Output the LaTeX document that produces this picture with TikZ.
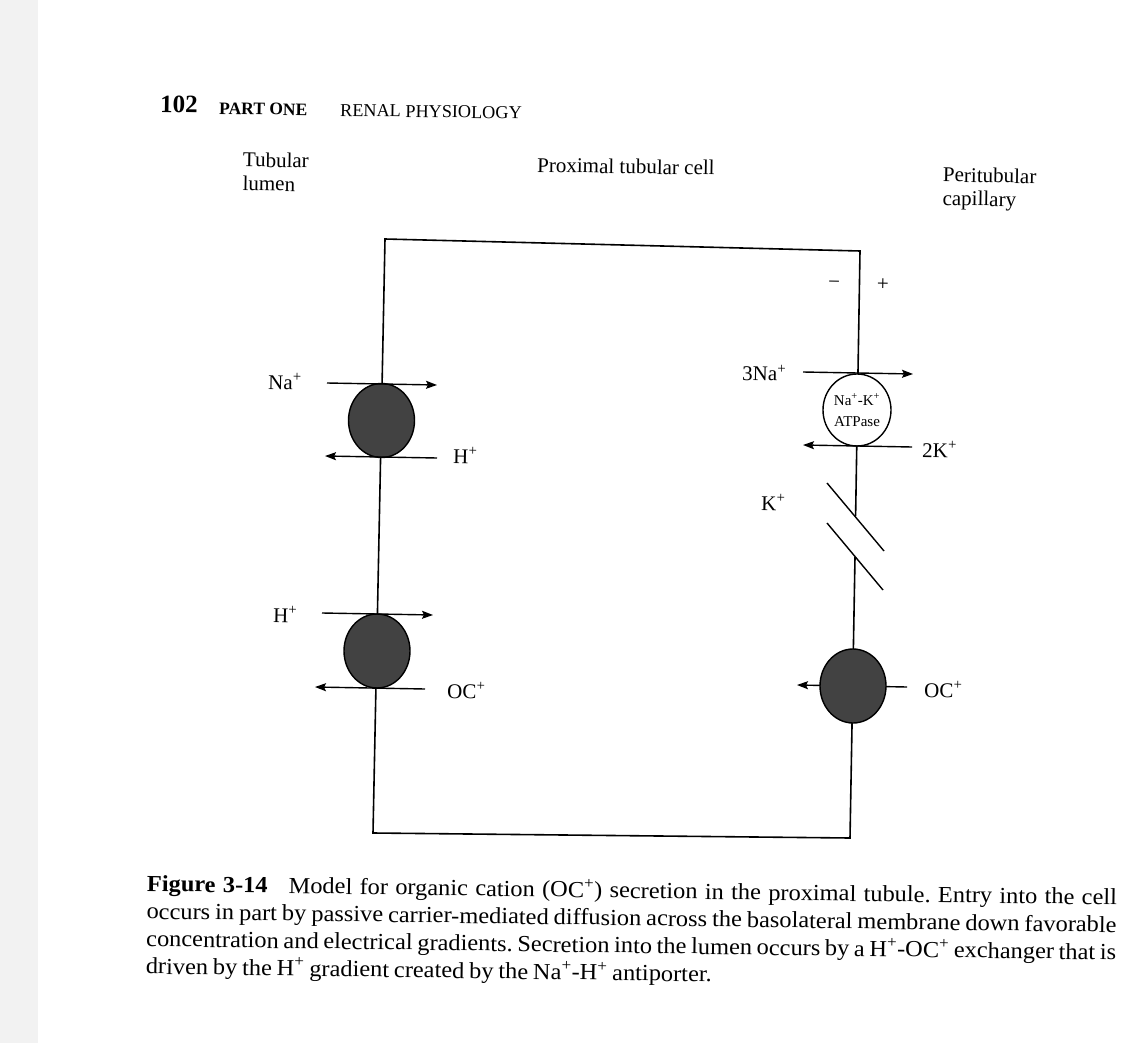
\documentclass[tikz,border=0pt]{standalone}
\usepackage{fontspec}
\setmainfont{Liberation Serif}
\newfontfamily\capfont{Liberation Serif}[FakeStretch=1.06]
\newcommand\capsetup{\capfont\fontsize{23}{27.5}\selectfont\frenchspacing\spaceskip=0.21em plus 0.4em minus 0.02em\relax}
\usetikzlibrary{arrows.meta,shapes.geometric}
\begin{document}
\begin{tikzpicture}[x=1pt,y=-1pt,
  lbl/.style={inner sep=0pt, font=\fontsize{21}{23.5}\selectfont, rotate=-1},
  memb/.style={line width=1.6pt, line join=miter},
  flux/.style={line width=1.4pt,-{Stealth[length=11pt,width=8pt,inset=2pt]}},
  carrier/.style={ellipse, draw, line width=1.4pt, fill=black!74, minimum width=66pt, minimum height=74pt, inner sep=0pt},
  chan/.style={line width=1.4pt}
  ]
\useasboundingbox (0,0) rectangle (1143,1043);
\fill[white] (0,0) rectangle (1143,1043);
\fill[black!5] (0,0) rectangle (38,1043);

% header
\node[inner sep=0pt, anchor=base west, rotate=-0.9, font=\fontsize{25}{28}\selectfont\bfseries] (pg) at (160,112) {102};
\node[inner sep=0pt, anchor=base west, rotate=-0.9, font=\fontsize{17.5}{20}\selectfont\bfseries] (part) at (219,114) {PART ONE};
\node[inner sep=0pt, anchor=base west, rotate=-0.9, font=\fontsize{18.2}{20}\selectfont] (renal) at (340,116) {RENAL PHYSIOLOGY};

% region titles
\node[lbl, anchor=north west, align=left] (lumen) at (243,152) {Tubular\\lumen};
\node[lbl, anchor=base west] (cell) at (537,172) {Proximal tubular cell};
\node[lbl, anchor=north west, align=left] (cap) at (943,167) {Peritubular\\capillary};

% cell outline (membranes)
\coordinate (tl) at (385,239);
\coordinate (tr) at (860,251);
\coordinate (br) at (850,838);
\coordinate (bl) at (373,833);
\coordinate (kA) at (855.6,516);
\coordinate (kB) at (855.0,557);
\draw[memb] (kA) -- (tr) -- (tl) -- (bl) -- (br) -- (kB);

% right OC+ arrow (behind carrier)
\coordinate (o4s) at (907,687);
\coordinate (o4e) at (797,685);
\draw[flux] (o4s) -- (o4e);

% carriers
\node[carrier] (nah) at (381.5,420.5) {};
\node[carrier] (hoc) at (377,651) {};
\node[carrier, fill=white, minimum width=68pt, minimum height=72pt, align=center,
      font=\fontsize{15}{21}\selectfont] (atp) at (857,410) {Na\textsuperscript{+}-K\textsuperscript{+}\\ATPase};
\node[carrier] (oct) at (853,686) {};

% fluxes
\coordinate (a1s) at (327,383);  \coordinate (a1e) at (437,385);
\coordinate (a2s) at (437,458);  \coordinate (a2e) at (325,456);
\coordinate (a3s) at (322,613);  \coordinate (a3e) at (433,615);
\coordinate (a4s) at (425,689);  \coordinate (a4e) at (315,687);
\coordinate (a5s) at (803,372);  \coordinate (a5e) at (913,374);
\coordinate (a6s) at (912,447);  \coordinate (a6e) at (803,445);
\draw[flux] (a1s) -- (a1e);
\draw[flux] (a2s) -- (a2e);
\draw[flux] (a3s) -- (a3e);
\draw[flux] (a4s) -- (a4e);
\draw[flux] (a5s) -- (a5e);
\draw[flux] (a6s) -- (a6e);

% K+ channel
\coordinate (c1a) at (827,483); \coordinate (c1b) at (884,551);
\coordinate (c2a) at (827,523); \coordinate (c2b) at (883,590);
\draw[chan] (c1a) -- (c1b);
\draw[chan] (c2a) -- (c2b);

% labels
\node[lbl, anchor=base west] (lna) at (268,389) {Na\textsuperscript{+}};
\node[lbl, anchor=base west] (lh1) at (453,463) {H\textsuperscript{+}};
\node[lbl, anchor=base west] (lh2) at (273,622) {H\textsuperscript{+}};
\node[lbl, anchor=base west] (loc1) at (447,698) {OC\textsuperscript{+}};
\node[lbl, anchor=base west] (l3na) at (742,380) {3Na\textsuperscript{+}};
\node[lbl, anchor=base west] (l2k) at (922,457) {2K\textsuperscript{+}};
\node[lbl, anchor=base west] (lk) at (761,510) {K\textsuperscript{+}};
\node[lbl, anchor=base west] (loc2) at (924,697) {OC\textsuperscript{+}};
\node[lbl] (minus) at (834,285) {−};
\node[lbl] (plus) at (883,285) {+};

% caption
\node[inner sep=0pt, anchor=north west, rotate=-0.8, align=left, font=\capsetup] (capt) at (147,873)
{\makebox[970pt][s]{\textbf{Figure 3-14}\hspace{0.6em} Model for organic cation (OC\textsuperscript{+}) secretion in the proximal tubule. Entry into the cell}\\
\makebox[970pt][s]{occurs in part by passive carrier-mediated diffusion across the basolateral membrane down favorable}\\
\makebox[970pt][s]{concentration and electrical gradients. Secretion into the lumen occurs by a H\textsuperscript{+}-OC\textsuperscript{+} exchanger that is}\\
driven by the H\textsuperscript{+} gradient created by the Na\textsuperscript{+}-H\textsuperscript{+} antiporter.};
\end{tikzpicture}
\end{document}
